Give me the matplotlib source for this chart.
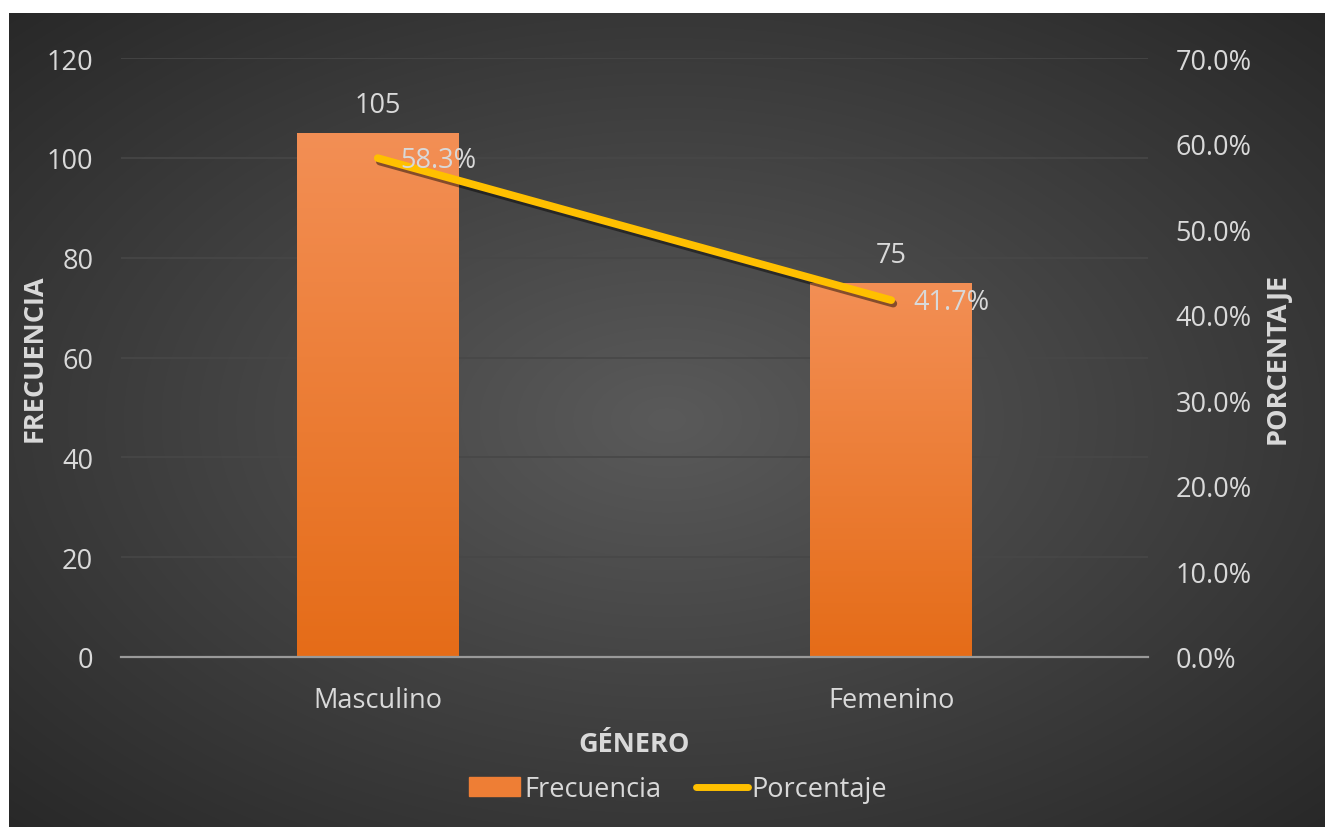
import numpy as np
import matplotlib
matplotlib.use("Agg")
import matplotlib.pyplot as plt
from matplotlib.patches import Rectangle
from matplotlib.lines import Line2D
import matplotlib.patheffects as pe

categories = ["Masculino", "Femenino"]
frecuencia = [105, 75]
porcentaje = [58.3, 41.7]
freq_ticks = [0, 20, 40, 60, 80, 100, 120]
pct_ticks = [0, 10, 20, 30, 40, 50, 60, 70]

plt.rcParams['font.family'] = ['Open Sans', 'DejaVu Sans']
FS = 19.5
TXT = '#d9d9d9'
W, H = 1325, 828
fig = plt.figure(figsize=(W / 100, H / 100), dpi=100)
fig.patch.set_facecolor('white')

# background panel with radial gradient
bg = fig.add_axes([9 / W, 0, 1 - 9 / W, 1 - 14 / H])
yy, xx = np.mgrid[0:1:400j, 0:1:600j]
r = np.sqrt(((xx - 0.5) / 0.75) ** 2 + ((yy - 0.5) / 0.75) ** 2)
r = np.clip(r / 0.95, 0, 1)
c0 = np.array([0x5a, 0x5a, 0x5a]) / 255
c1 = np.array([0x28, 0x28, 0x28]) / 255
img = c0[None, None, :] * (1 - r[..., None]) + c1[None, None, :] * r[..., None]
bg.imshow(img, aspect='auto', extent=[0, 1, 0, 1], interpolation='bilinear')
bg.set_axis_off()

left, right = 121 / W, 1148 / W
bottom, top = 1 - 658 / H, 1 - 59 / H
ax = fig.add_axes([left, bottom, right - left, top - bottom])
ax.patch.set_alpha(0)
x = np.arange(len(categories))
ax.set_yticks(freq_ticks)
ax.grid(axis='y', color='#474747', linewidth=1.2)
ax.set_axisbelow(True)
for s in ['top', 'right', 'left']:
    ax.spines[s].set_visible(False)
ax.spines['bottom'].set_color('#9a9a9a')
ax.spines['bottom'].set_linewidth(1.6)
ax.tick_params(axis='both', length=0, colors=TXT, labelsize=FS)
ax.tick_params(axis='y', pad=20)
ax.set_xticks(x)
ax.set_xticklabels(categories)
ax.tick_params(axis='x', pad=21)

bw = 0.315
bars = ax.bar(x, frecuencia, width=bw, color='#EE7E35', zorder=2)
grad = np.linspace(0, 1, 256)[:, None]
top_c = np.array([0xF3, 0x8F, 0x55]) / 255
bot_c = np.array([0xE5, 0x6C, 0x18]) / 255
gimg = top_c[None, None, :] * (1 - grad[..., None]) + bot_c[None, None, :] * grad[..., None]
gimg = np.repeat(gimg, 2, axis=1)
for b, v in zip(bars, frecuencia):
    bx, by, bw_, bh = b.get_x(), b.get_y(), b.get_width(), b.get_height()
    im = ax.imshow(gimg, extent=[bx, bx + bw_, by, by + bh], aspect='auto', zorder=2.1,
                   interpolation='bilinear')
    im.set_clip_path(b)
    ax.text(bx + bw_ / 2, bh + 2.8, f"{v}", ha='center', va='bottom',
            color=TXT, fontsize=FS)
ax.set_xlim(-0.5, len(categories) - 0.5)
ax.set_ylim(0, 120)

ax2 = ax.twinx()
ax2.set_ylim(0, 70)
ax2.set_yticks(pct_ticks)
ax2.set_yticklabels([f"{v:.1f}%" for v in pct_ticks])
for s in ax2.spines.values():
    s.set_visible(False)
ax2.tick_params(axis='y', length=0, colors=TXT, labelsize=FS, pad=20)
ax2.plot(x, porcentaje, color='#FFC000', linewidth=5.5, solid_capstyle='round', zorder=3,
         path_effects=[pe.SimpleLineShadow(offset=(1.5, -2.5), shadow_color='black', alpha=0.45),
                       pe.Normal()])
for xi, p in zip(x, porcentaje):
    ax2.annotate(f"{p:.1f}%", (xi, p), xytext=(16, -1), textcoords='offset points',
                 ha='left', va='center', color=TXT, fontsize=FS, zorder=4)

fig.text(35 / W, 1 - 358 / H, "FRECUENCIA", rotation=90, ha='center', va='center',
         color=TXT, fontsize=FS, fontweight='bold')
fig.text(1278 / W, 1 - 358 / H, "PORCENTAJE", rotation=90, ha='center', va='center',
         color=TXT, fontsize=FS, fontweight='bold')
fig.text((left + right) / 2, 1 - 745 / H, "GÉNERO", ha='center', va='center',
         color=TXT, fontsize=FS, fontweight='bold')

handles = [Rectangle((0, 0), 1, 1, color='#EE7E35'),
           Line2D([], [], color='#FFC000', linewidth=5, solid_capstyle='round')]
leg = fig.legend(handles, ["Frecuencia", "Porcentaje"], loc='center',
                 bbox_to_anchor=(678 / W, 1 - 790 / H), ncol=2, frameon=False,
                 fontsize=FS, labelcolor=TXT, handlelength=1.9, handletextpad=0.15,
                 columnspacing=1.3, handleheight=0.7)

fig.savefig("out.png", dpi=100, facecolor=fig.get_facecolor())
